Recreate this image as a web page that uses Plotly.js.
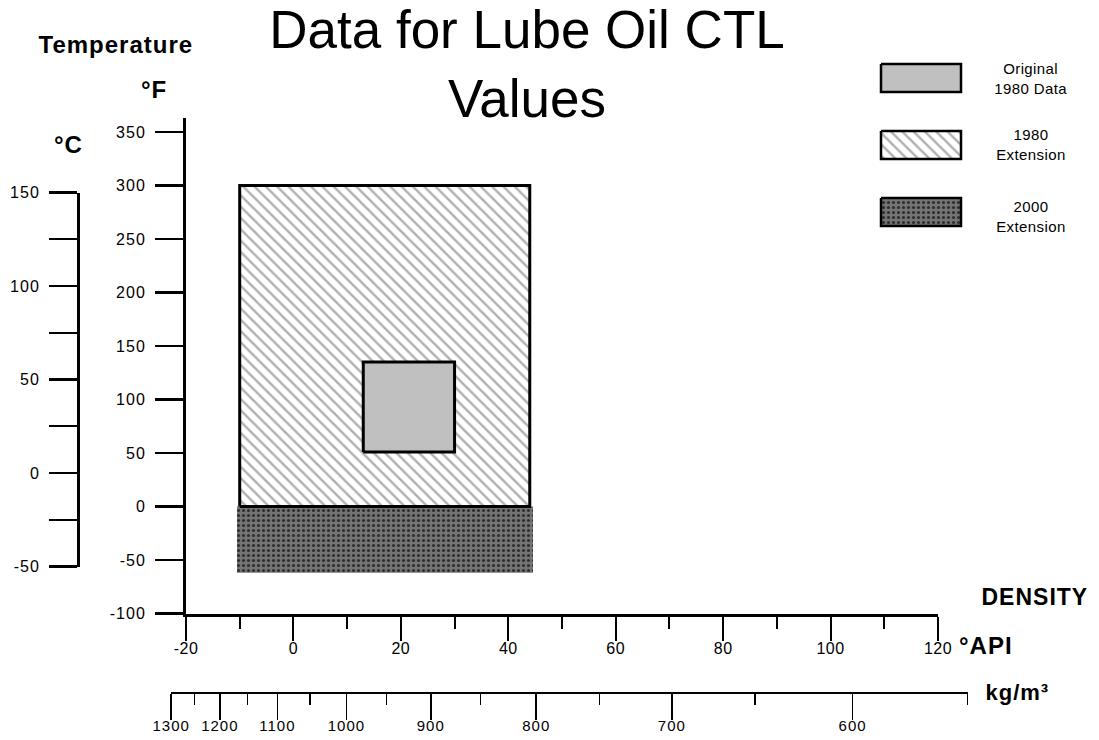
<!DOCTYPE html>
<html>
<head>
<meta charset="utf-8">
<script src="https://cdn.plot.ly/plotly-3.0.1.min.js"></script>
<style>
html,body{margin:0;padding:0;background:#fff;}
#chart{width:1099px;height:740px;}
#chart .annotation-text{letter-spacing:1px;}
#chart g.annotation[data-index="6"] text,
#chart g.annotation[data-index="7"] text,
#chart g.annotation[data-index="8"] text{letter-spacing:0.4px;}
#chart g[class$="tick"] text{letter-spacing:1px;}
#chart g.xtick text{letter-spacing:0.5px;}
</style>
</head>
<body>
<div id="chart"></div>
<script>
// ---------------- DATA ----------------
const regionNames = ['2000 Extension', '1980 Extension', 'Original 1980 Data'];
const apiMin  = [-10.5, -10, 13];     // °API
const apiMax  = [44.6, 44, 30];       // °API
const tempMin = [-62, 0, 51];         // °F
const tempMax = [0, 300, 135];        // °F

const legendLabels = ['Original<br>1980 Data', '1980<br>Extension', '2000<br>Extension'];

const apiTicks = [-20, 0, 20, 40, 60, 80, 100, 120];
const fTicks = [-100, -50, 0, 50, 100, 150, 200, 250, 300, 350];
const cTicks = [-50, 0, 50, 100, 150];
const cMinorTicks = [-25, 25, 75, 125];
const densityTicks = [1300, 1200, 1100, 1000, 900, 800, 700, 600];   // kg/m³
const densityMinorTicks = [1250, 1150, 1050, 950, 850, 750, 650, 550];

// ---------------- HELPERS ----------------
const W = 1099, H = 740;
const FONT = 'Liberation Sans, Arial, sans-serif';
const API_LO = -20, API_HI = 120, PX_LO = 186, PX_HI = 938;
const apiToPx = a => PX_LO + (a - API_LO) * (PX_HI - PX_LO) / (API_HI - API_LO);
const densityToApi = d => 141.5 / (d / 999.016) - 131.5;
const densLo = densityToApi(1300), densHi = densityToApi(550);
const lab = v => String(v);   // plain hyphen-minus labels

const styles = [
  {fillcolor: '#747474', line: {width: 0, color: 'rgba(0,0,0,0)'},
   fillpattern: {shape: '.', bgcolor: '#747474', fgcolor: '#2e2e2e', size: 5, solidity: 0.3, fillmode: 'replace'}},
  {fillcolor: '#ffffff', line: {width: 3, color: '#000'},
   fillpattern: {shape: '\\', bgcolor: '#ffffff', fgcolor: '#b0b0b0', size: 8, solidity: 0.3, fillmode: 'replace'}},
  {fillcolor: '#c0c0c0', line: {width: 3, color: '#000'}}
];

const traces = [];
regionNames.forEach((name, i) => {
  const t = {
    type: 'scatter', mode: 'lines', name: name, showlegend: false,
    x: [apiMin[i], apiMax[i], apiMax[i], apiMin[i], apiMin[i]],
    y: [tempMin[i], tempMin[i], tempMax[i], tempMax[i], tempMin[i]],
    fill: 'toself', fillcolor: styles[i].fillcolor, line: styles[i].line,
    xaxis: 'x', yaxis: 'y', hoverinfo: 'name'
  };
  if (styles[i].fillpattern) t.fillpattern = styles[i].fillpattern;
  traces.push(t);
});

// custom legend swatches on hidden axes
const legendOrder = [2, 1, 0];
legendOrder.forEach((ri, row) => {
  const top = row * 67, bot = row * 67 + 28;
  const st = styles[ri];
  const t = {
    type: 'scatter', mode: 'lines', showlegend: false, hoverinfo: 'skip',
    x: [0, 80, 80, 0, 0], y: [top, top, bot, bot, top],
    fill: 'toself', fillcolor: st.fillcolor,
    line: {width: 2.5, color: '#000'},
    xaxis: 'x4', yaxis: 'y4'
  };
  if (st.fillpattern) t.fillpattern = st.fillpattern;
  traces.push(t);
});

traces.push({type: 'scatter', x: [null], y: [null], xaxis: 'x', yaxis: 'y2', showlegend: false, hoverinfo: 'skip'});
traces.push({type: 'scatter', x: [null], y: [null], xaxis: 'x3', yaxis: 'y', showlegend: false, hoverinfo: 'skip'});

const axisCommon = {
  showgrid: false, zeroline: false, showline: true, linecolor: '#000',
  ticks: 'outside', tickcolor: '#000', fixedrange: true,
  tickfont: {family: FONT, size: 16, color: '#000'}
};

const layout = {
  width: W, height: H,
  margin: {l: 0, r: 0, t: 0, b: 0, pad: 0},
  paper_bgcolor: '#fff', plot_bgcolor: 'rgba(0,0,0,0)',
  showlegend: false,
  font: {family: FONT, color: '#000'},
  title: {
    text: 'Data for Lube Oil CTL<br>Values',
    font: {family: FONT, size: 53, color: '#000'},
    x: 527 / W, xanchor: 'center', xref: 'container',
    y: 1 - 48 / H, yanchor: 'top', yref: 'container'
  },
  xaxis: Object.assign({}, axisCommon, {
    domain: [apiToPx(-20) / W, apiToPx(120) / W], range: [API_LO, API_HI],
    anchor: 'y', tickmode: 'array', tickvals: apiTicks, ticktext: apiTicks.map(lab),
    ticklen: 24, tickwidth: 2, linewidth: 3, ticklabelstandoff: -6,
    tickfont: {family: FONT, size: 16, color: '#000'},
    minor: {dtick: 10, tick0: 0, ticklen: 12, tickwidth: 2, tickcolor: '#000', ticks: 'outside'}
  }),
  yaxis: Object.assign({}, axisCommon, {
    domain: [1 - 613.5 / H, 1 - 118 / H], range: [-100, 363],
    anchor: 'x', tickmode: 'array', tickvals: fTicks, ticktext: fTicks.map(lab),
    ticklen: 28, tickwidth: 2.5, linewidth: 3, ticklabelstandoff: 6
  }),
  yaxis2: Object.assign({}, axisCommon, {
    domain: [1 - 566.5 / H, 1 - 192.5 / H], range: [-50, 150],
    anchor: 'free', position: 78 / W, side: 'left',
    tickmode: 'array', tickvals: cTicks, ticktext: cTicks.map(lab),
    ticklen: 28, tickwidth: 2.5, linewidth: 3, ticklabelstandoff: 6,
    minor: {tickmode: 'array', tickvals: cMinorTicks, ticklen: 28, tickwidth: 2, tickcolor: '#000', ticks: 'outside'}
  }),
  xaxis3: Object.assign({}, axisCommon, {
    domain: [apiToPx(densLo) / W, apiToPx(densHi) / W], range: [densLo, densHi],
    anchor: 'free', position: 1 - 692.5 / H, side: 'bottom',
    tickmode: 'array', tickvals: densityTicks.map(densityToApi), ticktext: densityTicks.map(lab),
    ticklen: 26, tickwidth: 1.5, linewidth: 2, ticklabelstandoff: -7,
    tickfont: {family: FONT, size: 15, color: '#000'},
    minor: {tickmode: 'array', tickvals: densityMinorTicks.map(densityToApi), ticklen: 11, tickwidth: 1.5, tickcolor: '#000', ticks: 'outside'}
  }),
  xaxis4: {domain: [876 / W, 966 / W], range: [-5, 85], anchor: 'y4', visible: false, fixedrange: true},
  yaxis4: {domain: [1 - 230 / H, 1 - 60 / H], range: [166, -4], anchor: 'x4', visible: false, fixedrange: true},
  annotations: [
    {text: '<b>Temperature</b>', x: 116 / W, y: 1 - 44 / H, size: 24},
    {text: '<b>°F</b>', x: 154 / W, y: 1 - 90 / H, size: 24},
    {text: '<b>°C</b>', x: 68 / W, y: 1 - 144 / H, size: 24},
    {text: '<b>DENSITY</b>', x: 1035 / W, y: 1 - 597 / H, size: 23},
    {text: '<b>°API</b>', x: 986 / W, y: 1 - 645 / H, size: 24},
    {text: '<b>kg/m³</b>', x: 1017 / W, y: 1 - 692 / H, size: 22},
    {text: legendLabels[0], x: 1031 / W, y: 1 - 78 / H, size: 15},
    {text: legendLabels[1], x: 1031 / W, y: 1 - 144 / H, size: 15},
    {text: legendLabels[2], x: 1031 / W, y: 1 - 216 / H, size: 15}
  ].map(a => ({
    text: a.text, x: a.x, y: a.y, xref: 'paper', yref: 'paper', showarrow: false,
    xanchor: 'center', yanchor: 'middle',
    font: {family: FONT, size: a.size, color: '#000'}
  }))
};

Plotly.newPlot('chart', traces, layout, {displayModeBar: false, staticPlot: true});
</script>
</body>
</html>
